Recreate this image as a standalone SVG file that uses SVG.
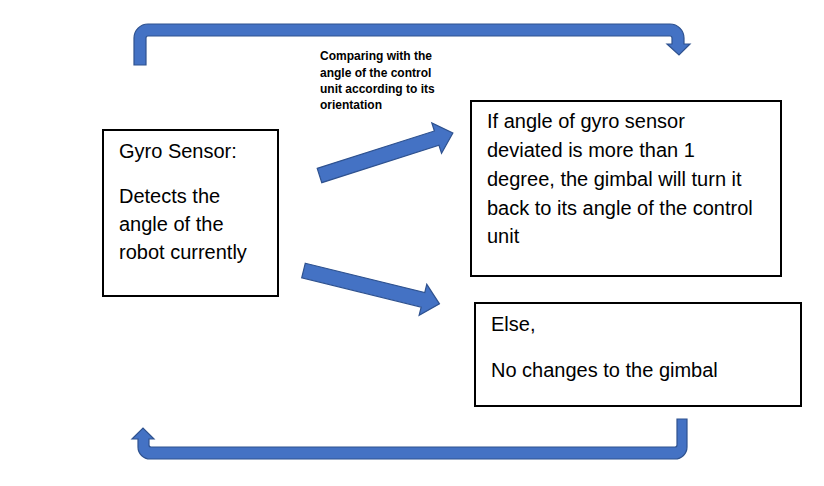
<svg xmlns="http://www.w3.org/2000/svg" width="824" height="486" viewBox="0 0 824 486">
<style>
.box{fill:#fff;stroke:#000;stroke-width:2}
.t{font-family:"Liberation Sans",Arial,sans-serif;font-size:20px;fill:#000}
.lbl{font-family:"Liberation Sans",Arial,sans-serif;font-size:12px;font-weight:bold;fill:#000}
.arr{fill:#4472C4;stroke:#2F528F;stroke-width:1.2;stroke-linejoin:miter}
</style>
<rect width="824" height="486" fill="#fff"/>
<g id="connectors">
<path class="arr" d="M134,65 V38 A14,14 0 0 1 148,24 H670 A14,14 0 0 1 684,38 V44 H690 L679,55 L667,44 H672 V38 A2,2 0 0 0 670,36 H148 A2,2 0 0 0 146,38 V65 Z"/>
<path class="arr" d="M677,419 H687 V447 A12,12 0 0 1 675,459 H150 A12,12 0 0 1 138,447 V439 H132 L143,428 L154,439 H149 V445 A2,2 0 0 0 151,447 H675 A2,2 0 0 0 677,445 Z"/>
<polygon class="arr" transform="translate(319.5,175.5) rotate(-17.7)" points="0,-7.5 123,-7.5 123,-16 140,0 123,16 123,7.5 0,7.5"/>
<polygon class="arr" transform="translate(303.5,270.5) rotate(13.8)" points="0,-7.5 123,-7.5 123,-16 140,0 123,16 123,7.5 0,7.5"/>
<text class="lbl"><tspan x="320" y="60">Comparing with the</tspan><tspan x="320" y="77">angle of the control</tspan><tspan x="320" y="93">unit according to its</tspan><tspan x="320" y="109">orientation</tspan></text>
</g>
<g id="gyro">
<rect class="box" x="103" y="130" width="175" height="166"/>
<text class="t"><tspan x="119" y="158">Gyro Sensor:</tspan><tspan x="119" y="203">Detects the</tspan><tspan x="119" y="231">angle of the</tspan><tspan x="119" y="259">robot currently</tspan></text>
</g>
<g id="if">
<rect class="box" x="471" y="101" width="310" height="175"/>
<text class="t"><tspan x="487" y="128">If angle of gyro sensor</tspan><tspan x="487" y="157">deviated is more than 1</tspan><tspan x="487" y="186">degree, the gimbal will turn it</tspan><tspan x="487" y="215">back to its angle of the control</tspan><tspan x="487" y="243">unit</tspan></text>
</g>
<g id="else">
<rect class="box" x="475" y="303" width="326" height="103"/>
<text class="t"><tspan x="491" y="331">Else,</tspan><tspan x="491" y="377">No changes to the gimbal</tspan></text>
</g>
</svg>
